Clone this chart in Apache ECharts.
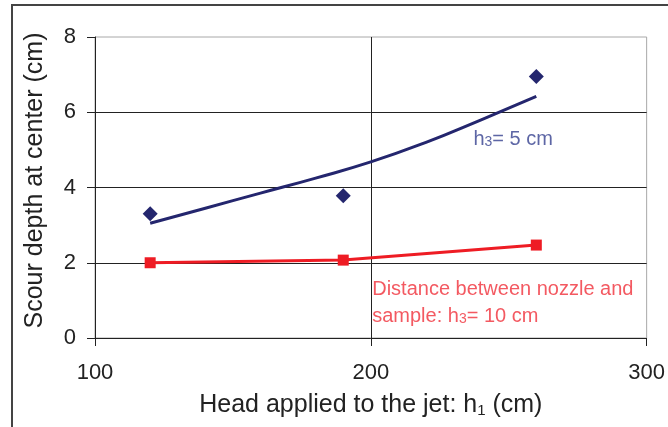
<!DOCTYPE html>
<html>
<head>
<meta charset="utf-8">
<script src="https://cdn.jsdelivr.net/npm/echarts@6/dist/echarts.min.js"></script>
<style>
html,body{margin:0;padding:0;background:#fff;}
#c{width:668px;height:427px;}
</style>
</head>
<body>
<div id="c"></div>
<script>
// Data
const headX = [120, 190, 260];
const depthH5 = [3.3, 3.78, 6.95];
const depthH10 = [2.0, 2.07, 2.47];
const trendX = [120, 140, 160, 180, 200, 220, 240, 260];
const trendH5 = [3.05, 3.45, 3.85, 4.25, 4.68, 5.2, 5.8, 6.42];
const xTicks = [100, 200, 300];
const yTicks = [0, 2, 4, 6, 8];

const FONT = '"Liberation Sans", Arial, sans-serif';
const NAVY = '#24266e';
const RED = '#ee1c24';

const chart = echarts.init(document.getElementById('c'), null, {renderer: 'canvas'});

chart.setOption({
  backgroundColor: '#ffffff',
  animation: false,
  textStyle: {fontFamily: FONT},
  graphic: [{
    type: 'rect',
    shape: {x: 12, y: 5, width: 720, height: 500},
    style: {fill: 'none', stroke: '#444', lineWidth: 2},
    silent: true
  }],
  grid: {
    left: 95, right: 19, top: 37, bottom: 89,
    show: true, borderColor: '#a8a8a8', borderWidth: 1, backgroundColor: 'transparent'
  },
  xAxis: {
    type: 'value', min: xTicks[0], max: xTicks[xTicks.length - 1], interval: 100,
    name: '{a|Head applied to the jet: h}{s|1}{a| (cm)}',
    nameLocation: 'middle', nameGap: 52,
    nameTextStyle: {
      rich: {
        a: {fontSize: 25, color: '#222', fontFamily: FONT, verticalAlign: 'bottom', lineHeight: 28},
        s: {fontSize: 15, color: '#222', fontFamily: FONT, verticalAlign: 'bottom', lineHeight: 28}
      }
    },
    axisLine: {show: true, lineStyle: {color: '#222', width: 1}},
    axisTick: {show: true, inside: false, length: 8, lineStyle: {color: '#222'}},
    axisLabel: {fontSize: 22, color: '#222', margin: 24, fontFamily: FONT},
    splitLine: {show: true, showMinLine: false, showMaxLine: false, lineStyle: {color: '#222', width: 1}}
  },
  yAxis: {
    type: 'value', min: yTicks[0], max: yTicks[yTicks.length - 1], interval: 2,
    name: 'Scour depth at center (cm)',
    nameLocation: 'middle', nameGap: 47,
    nameTextStyle: {fontSize: 25, color: '#222', fontFamily: FONT, padding: [0, 0, 0, 14]},
    axisLine: {show: true, lineStyle: {color: '#222', width: 1}},
    axisTick: {show: true, inside: false, length: 8, lineStyle: {color: '#222'}},
    axisLabel: {fontSize: 22, color: '#222', margin: 19, fontFamily: FONT},
    splitLine: {show: true, showMinLine: false, showMaxLine: false, lineStyle: {color: '#222', width: 1}}
  },
  series: [
    {
      name: 'trend h3=5',
      type: 'line',
      data: trendX.map((x, i) => [x, trendH5[i]]),
      smooth: true,
      symbol: 'none',
      lineStyle: {color: NAVY, width: 3},
      z: 3
    },
    {
      name: 'h3=5',
      type: 'scatter',
      data: headX.map((x, i) => [x, depthH5[i]]),
      symbol: 'diamond',
      symbolSize: 15,
      itemStyle: {color: NAVY, opacity: 1},
      z: 4
    },
    {
      name: 'h3=10',
      type: 'line',
      data: headX.map((x, i) => [x, depthH10[i]]),
      symbol: 'rect',
      symbolSize: 11,
      showAllSymbol: true,
      lineStyle: {color: RED, width: 3},
      itemStyle: {color: RED, opacity: 1},
      z: 4
    },
    {
      name: 'labels',
      type: 'scatter',
      symbolSize: 0,
      silent: true,
      data: [
        {
          value: [237.2, 5.34],
          label: {
            show: true, position: 'right', distance: 0,
            formatter: '{a|h}{s|3}{a|= 5 cm}',
            rich: {
              a: {fontSize: 20, color: '#34408f', fontFamily: FONT, verticalAlign: 'bottom', lineHeight: 24},
              s: {fontSize: 14, color: '#34408f', fontFamily: FONT, verticalAlign: 'bottom', lineHeight: 24}
            }
          }
        },
        {
          value: [200.5, 1.03],
          label: {
            show: true, position: 'right', distance: 0,
            formatter: '{r|Distance between nozzle and}\n{r|sample: h}{t|3}{r|= 10 cm}',
            rich: {
              r: {fontSize: 20, color: '#f0303a', fontFamily: FONT, verticalAlign: 'bottom', lineHeight: 27},
              t: {fontSize: 14, color: '#f0303a', fontFamily: FONT, verticalAlign: 'bottom', lineHeight: 27}
            }
          }
        }
      ],
      z: 5
    }
  ]
});
</script>
</body>
</html>
